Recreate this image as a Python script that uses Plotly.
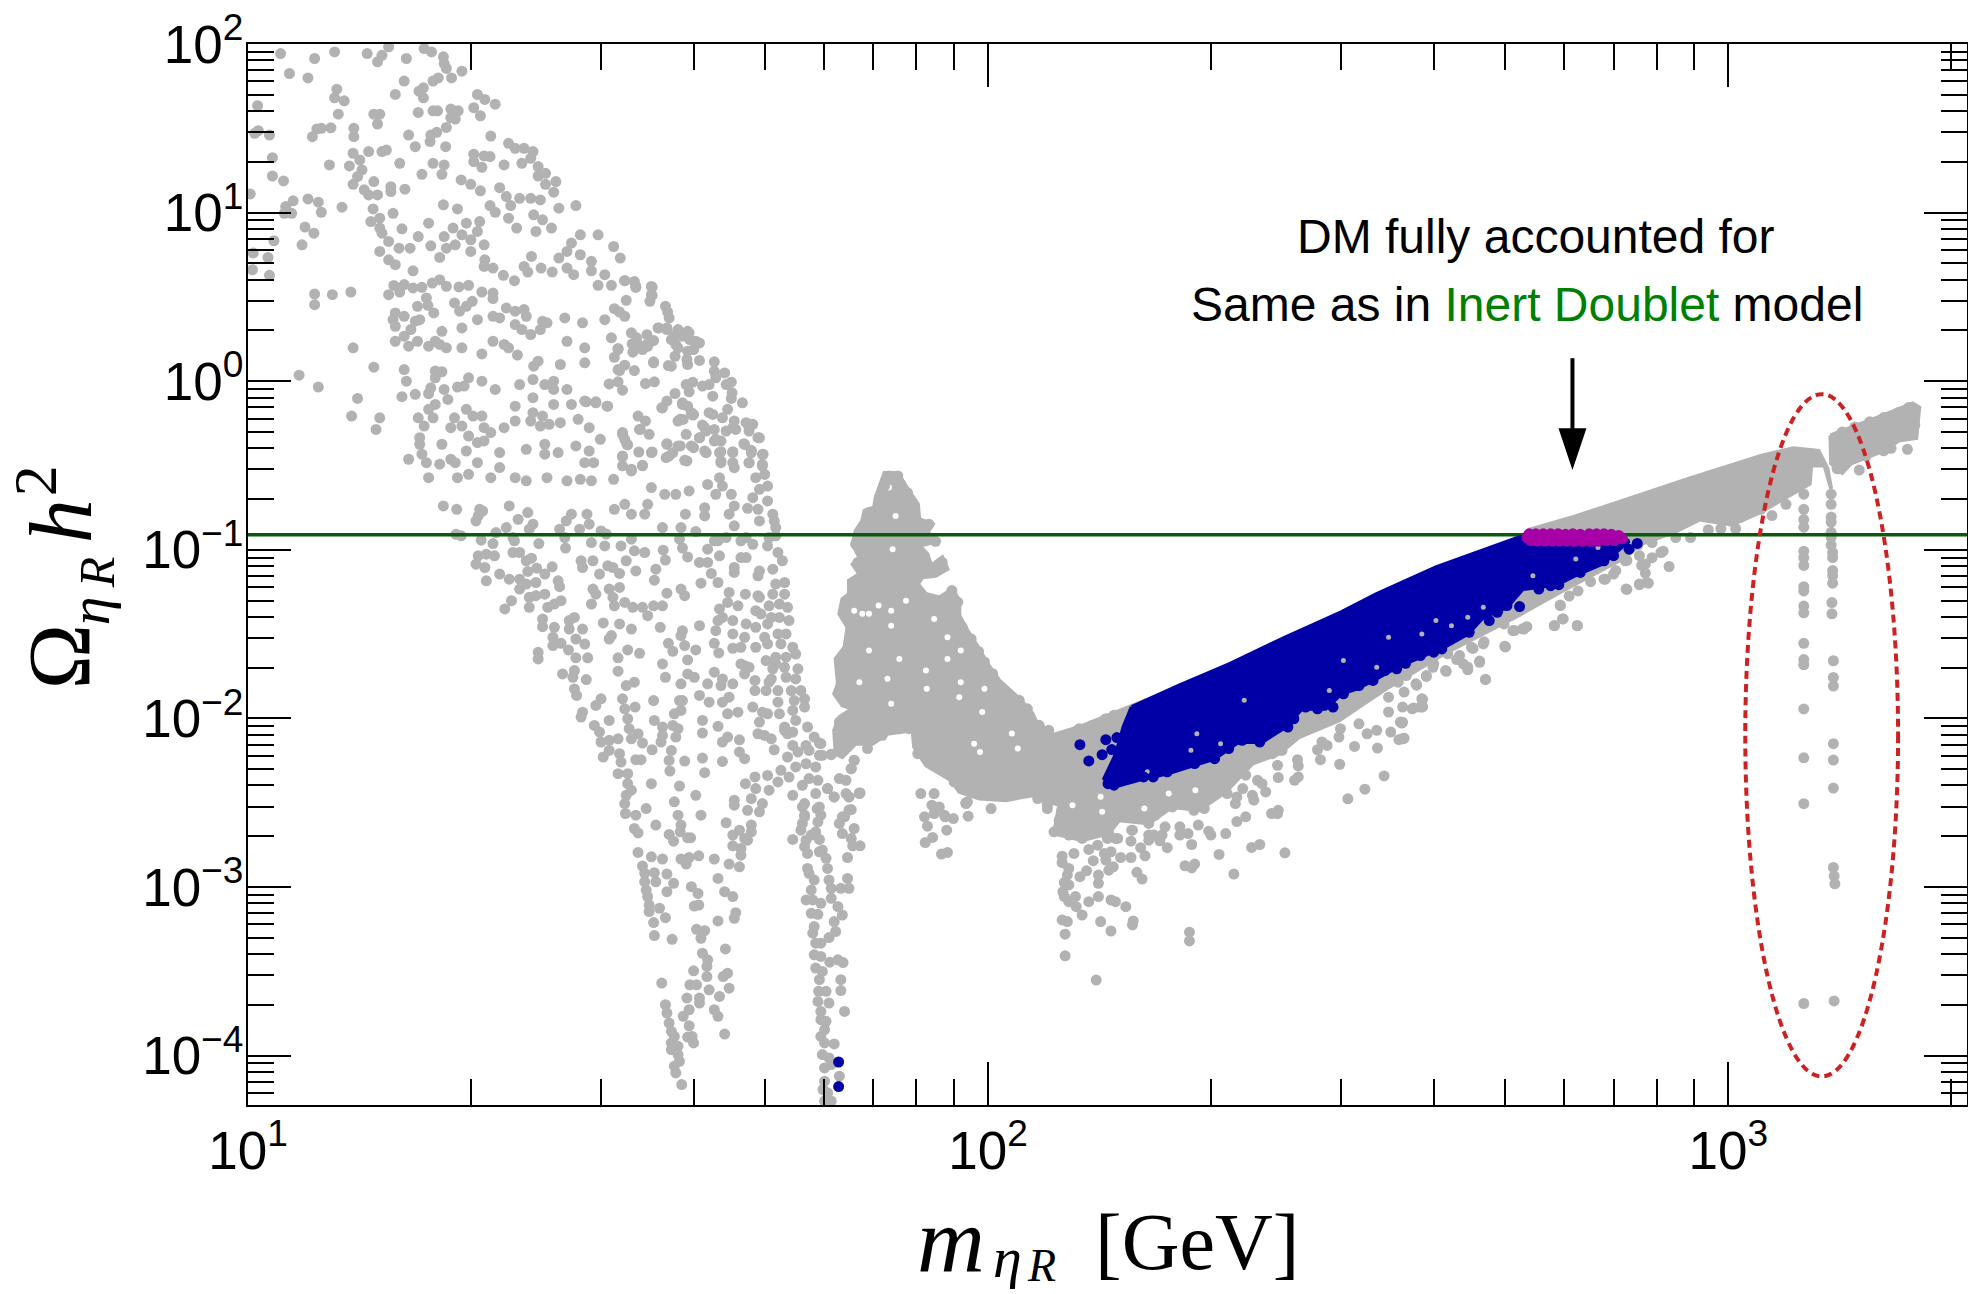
import plotly.graph_objects as go

# --- values: (log10 m [GeV], log10 Omega h^2) ---
grey_top = [
(1.044,1.943),(1.090,1.914),(1.117,1.953),(1.161,1.943),(1.181,1.933),(1.175,1.894),(1.190,1.983),(1.214,1.914),(1.238,1.973),(1.248,1.953),
(1.264,1.924),(1.265,1.884),(1.268,1.855),(1.275,1.799),(1.289,1.839),(1.056,1.825),(1.081,1.799),(1.120,1.732),(1.117,1.681),(1.130,1.663),
(1.122,1.584),(1.211,1.780),(1.250,1.780),(1.257,1.799),(1.231,1.720),(1.237,1.740),(1.237,1.681),(1.199,1.701),(1.310,1.701),(1.320,1.671),
(1.334,1.643),(1.305,1.622),(1.314,1.574),(1.170,1.584),(1.178,1.584),(1.175,1.525),(1.230,1.594),(1.250,1.604),(1.256,1.604),(1.274,1.614),
(1.284,1.604),(1.280,1.555),(1.274,1.563),(1.268,1.505),(1.013,1.634),(1.014,1.486),(1.009,1.470),(1.029,1.460),(1.033,1.326),(1.033,1.217),
(1.048,1.188),(1.003,1.111),(1.061,1.070),(1.081,1.081),(1.095,1.062),(1.099,1.002),(1.051,1.036),(1.049,0.996),(1.059,0.996),(1.127,1.032),
(1.077,0.914),(1.089,0.878),(1.035,0.833),(1.073,0.809),(1.007,0.760),(1.027,0.734),(1.006,0.661),(1.029,0.628),(1.099,1.50),(1.112,1.503),
(1.087,1.450),(1.093,1.496),(1.143,1.50),(1.143,1.45),(1.217,1.46),(1.226,1.391),(1.246,1.421),(1.247,1.46),(1.255,1.476),(1.328,1.454),
(1.267,1.391),(1.142,1.352),(1.151,1.312),(1.163,1.362),(1.181,1.362),(1.187,1.371),(1.110,1.283),(1.137,1.277),(1.154,1.253),(1.148,1.214),
(1.142,1.168),(1.170,1.184),(1.157,1.135),(1.163,1.105),(1.175,1.105),(1.193,1.154),(1.193,1.125),(1.212,1.139),(1.205,1.292),(1.235,1.227),
(1.250,1.292),(1.265,1.283),(1.262,1.227),(1.305,1.346),(1.305,1.302),(1.319,1.336),(1.327,1.332),(1.316,1.269),(1.288,1.194),(1.301,1.168),
(1.314,1.129),(1.352,1.411),(1.361,1.381),(1.373,1.381),(1.385,1.362),(1.346,1.283),(1.370,1.292),(1.382,1.322),(1.392,1.273),(1.392,1.217),
(1.402,1.233),(1.416,1.184),(1.402,1.168),(1.413,1.121),(1.340,1.148),(1.349,1.095),(1.355,1.042),(1.367,1.085),(1.382,1.085),(1.395,1.075),
(1.420,1.026),(1.443,1.042),(1.327,1.042),(1.334,1.002),(1.352,0.967),(1.386,0.987),(1.398,0.957),(1.410,0.908),(1.363,0.908),(1.389,0.888),
(1.264,1.046),(1.283,1.022),(1.169,1.022),(1.178,0.967),(1.166,0.947),(1.178,0.908),(1.196,0.996),(1.181,0.878),(1.208,0.904),(1.244,0.937),
(1.295,.937),(1.313,.947),(1.277,.908),(1.310,.888),(1.265,.858),(1.289,.868),(1.301,.839),(1.319,.809),(1.230,.858),(1.247,.803),
(1.268,.789),(1.280,.809),(1.301,.770),(1.190,.829),(1.178,.770),(1.204,.789),(1.219,.789),(1.190,.720),(1.199,.691),(1.259,.734),
(1.223,.655),(1.320,.720),(1.319,.681),(1.331,.671),(1.345,.628),(1.360,.596),(1.383,.740),(1.373,.681),(1.378,.647),(1.396,.671),
(1.411,.647),(1.420,.730),(1.437,.819),(1.449,.868),(1.473,.868),(1.494,.799),(1.503,.730),(1.431,.770),(1.449,.750),(1.464,.711),
(1.431,.671),(1.440,.632),(1.464,.655),(1.482,.632),(1.509,.596),(1.524,.563),(1.546,.557),(1.545,.513),(1.473,.569),(1.491,.569),
]
grey_upper_mid = [
(1.090,.517),(1.090,.454),(1.114,.513),(1.139,.529),(1.190,.513),(1.197,.568),(1.211,.573),(1.223,.553),(1.235,.557),(1.249,.582),
(1.259,.602),(1.268,.563),(1.285,.559),(1.298,.569),(1.205,.529),(1.316,.529),(1.331,.523),(1.331,.490),(1.241,.494),(1.243,.450),
(1.229,.444),(1.279,.464),(1.286,.415),(1.295,.444),(1.303,.474),(1.199,.405),(1.211,.385),(1.196,.365),(1.199,.326),(1.232,.365),
(1.226,.356),(1.251,.405),(1.220,.306),(1.211,.267),(1.199,.237),(1.217,.208),(1.229,.237),(1.244,.208),(1.259,.218),(1.262,.296),
(1.253,.237),(1.268,.198),(1.289,.198),(1.289,.316),(1.310,.365),(1.331,.385),(1.340,.375),(1.349,.434),(1.361,.415),(1.373,.425),
(1.376,.385),(1.361,.336),(1.370,.306),(1.382,.277),(1.398,.356),(1.404,.346),(1.395,.306),(1.331,.237),(1.346,.218),(1.352,.198),
(1.364,.155),(1.316,.162),(1.142,.198),(1.170,.083),(1.211,.069),(1.214,.0),(1.428,.375),(1.452,.346),(1.482,.365),(1.518,.287),
(1.527,.218),(1.539,.218),(1.554,.316),(1.566,.306),(1.581,.296),(1.596,.287),(1.572,.247),(1.581,.198),(1.605,.237),(1.431,.237),
(1.455,.198),(1.500,.188),(1.524,.227),(1.548,.109),(1.572,.089),(1.593,.129),(1.602,.188),(1.455,.109),(1.500,.069),(1.422,.099),
(1.392,.119),(1.386,.089),(1.069,.036),(1.095,-.035),(1.148,-.102),(1.140,-.207),(1.178,-.217),(1.173,-.286),(1.208,-.092),(1.226,-.078),
(1.244,-.074),(1.247,-.039),(1.265,-.049),(1.270,-.108),(1.253,.06),(1.262,.056),(1.253,.02),(1.283,-.035),(1.292,-.029),(1.298,.02),
(1.316,0),(1.334,-.049),(1.253,-.138),(1.244,-.167),(1.250,-.217),(1.230,-.217),(1.279,-.217),(1.295,-.167),(1.304,-.207),(1.316,-.207),
(1.238,-.266),(1.274,-.276),(1.289,-.266),(1.298,-.325),(1.319,-.276),(1.328,-.305),(1.310,-.364),(1.319,-.354),(1.346,-.276),(1.361,-.236),
(1.367,-.020),(1.385,.010),(1.385,-.098),(1.401,-.020),(1.413,-.049),(1.431,-.049),(1.413,0),(1.385,-.187),(1.361,-.148),(1.398,-.207),
(1.413,-.138),(1.437,-.138),(1.455,-.118),(1.470,-.128),(1.485,-.148),(1.382,-.236),(1.395,-.266),(1.407,-.256),(1.422,-.246),(1.446,-.226),
(1.461,-.276),(1.476,-.345),(1.506,-.315),(1.512,-.374),(1.530,-.286),(1.527,-.207),(1.566,-.374),(1.584,-.384),(1.560,-.158),(1.587,-.138),
(1.602,-.197),(1.584,-.226),(1.232,-.335),(1.232,-.374),(1.235,-.433),(1.217,-.463),(1.241,-.483),(1.244,-.572),(1.259,-.492),(1.274,-.463),
(1.295,-.414),(1.280,-.483),(1.310,-.483),(1.262,-.374),(1.283,-.572),(1.298,-.552),(1.340,-.423),(1.340,-.512),(1.328,-.572),(1.361,-.572),
(1.376,-.404),(1.401,-.374),(1.419,-.423),(1.401,-.433),(1.443,-.384),(1.461,-.414),(1.455,-.483),(1.467,-.483),(1.506,-.443),(1.506,-.502),
(1.518,-.532),(1.533,-.502),(1.545,-.423),(1.569,-.443),(1.593,-.473),(1.599,-.384),(1.376,-.591),(1.404,-.572),(1.431,-.591),(1.449,-.582),
(1.464,-.591),(1.494,-.582),(1.545,-.631),(1.563,-.671),(1.578,-.671),(1.596,-.651),
]
grey_shoulder = [
(1.610,.227),(1.610,.123),(1.594,.296),(1.594,.178),(1.594,.099),(1.577,.148),(1.568,.093),(1.630,.115),(1.630,.059),(1.644,.049),
(1.632,.020),(1.601,-.006),(1.592,-.020),(1.596,-.063),(1.614,-.029),(1.623,-.020),(1.646,-.020),(1.653,-.006),(1.628,-.089),(1.654,-.069),
(1.653,-.102),(1.668,-.128),(1.577,-.073),(1.566,-.118),(1.559,-.158),(1.587,-.128),(1.594,-.148),(1.599,-.187),(1.601,-.201),(1.623,-.187),
(1.628,-.197),(1.648,-.167),(1.641,-.217),(1.581,-.236),(1.588,-.227),(1.614,-.260),(1.619,-.296),(1.610,-.335),(1.630,-.286),(1.646,-.296),
(1.657,-.236),(1.659,-.286),(1.673,-.246),(1.682,-.256),(1.677,-.296),(1.689,-.335),(1.630,-.355),(1.639,-.355),(1.639,-.418),(1.655,-.418),
(1.670,-.371),(1.680,-.410),(1.677,-.483),(1.696,-.434),(1.695,-.503),(1.655,-.483),(1.639,-.483),(1.619,-.424),(1.592,-.315),(1.602,-.394),
(1.590,-.469),(1.581,-.384),(1.574,-.424),(1.565,-.453),(1.566,-.371),(1.546,-.420),(1.528,-.420),(1.506,-.449),(1.533,-.499),(1.518,-.522),
(1.537,-.236),(1.529,-.286),(1.542,-.315),(1.506,-.305),(1.509,-.345),(1.513,-.378),(1.555,.316),(1.566,.316),(1.581,.306),(1.576,.267),
(1.587,.267),(1.597,.247),(1.578,.217),(1.539,.276),(1.548,.241),(1.540,.207),(1.533,.188),(1.525,.257),(1.519,.221),(1.520,.172),
(1.548,.115),(1.545,.562),(1.546,.509),(1.543,.474),(1.564,.444),(1.567,.410),(1.569,.375),(1.522,.592),(1.524,.556),(1.509,.596),
(1.511,.480),(1.495,.430),(1.502,.410),(1.509,.385),(1.491,.257),(1.500,.194),(1.495,.142),(1.509,.095),(1.502,.063),(1.522,.063),
(1.488,-.016),(1.500,-.004),(1.506,-.053),(1.537,-.014),(1.549,-.004),(1.486,-.148),(1.470,-.122),(1.457,-.122),
]
grey_mid = [
(1.264,-.740),(1.282,-.760),(1.353,-.740),(1.313,-.760),(1.317,-.770),(1.311,-.799),(1.308,-.829),(1.365,-.819),(1.378,-.779),(1.385,-.848),
(1.281,-.908),(1.288,-.917),(1.315,-.943),(1.335,-.898),(1.349,-.868),(1.331,-.963),(1.358,-.927),(1.360,-.947),(1.380,-.878),(1.393,-.963),
(1.421,-.878),(1.430,-.829),(1.437,-.789),(1.428,-.927),(1.429,-.990),(1.448,-.878),(1.458,-.789),(1.461,-.848),(1.464,-.957),(1.482,-.977),
(1.477,-.888),(1.484,-.907),(1.504,-.977),(1.518,-.937),(1.522,-1.006),(1.536,-1.016),(1.560,-.868),(1.561,-1.002),(1.564,-1.061),(1.583,-.937),
(1.585,-.868),(1.591,-.789),(1.587,-.990),(1.594,-1.042),(1.605,-.892),(1.495,-.760),(1.518,-.789),(1.536,-.789),(1.540,-.730),(1.509,-.730),
(1.617,-.750),(1.617,-.799),(1.650,-.789),(1.657,-.740),(1.657,-.858),(1.621,-.612),(1.637,-.572),(1.641,-.622),(1.632,-.671),(1.653,-.671),
(1.686,-.572),(1.691,-.641),(1.698,-.553),(1.702,-.622),(1.682,-.691),(1.675,-.754),(1.689,-.760),(1.702,-.710),(1.691,-.829),(1.709,-.789),
(1.711,-.829),(1.713,-.868),(1.695,-.434),(1.695,-.493),(1.677,-.484),(1.680,-.424),(1.671,-.375),(1.691,-.336),(1.677,-.276),(1.655,-.424),
(1.657,-.513),(1.639,-.474),(1.637,-.424),(1.632,-.345),(1.617,-.276),(1.655,-.276),(1.610,-.336),(1.617,-.414),(1.704,-.927),(1.713,-.917),
(1.673,-.927),(1.666,-.947),(1.682,-.967),(1.702,-.977),(1.716,-1.016),(1.722,-1.065),(1.709,-1.115),(1.691,-1.125),(1.689,-1.154),(1.673,-1.046),
(1.666,-1.046),(1.657,-1.105),(1.657,-1.134),(1.635,-.947),(1.646,-.927),(1.621,-.996),(1.637,-1.036),(1.630,-.947),(1.610,-1.075),(1.621,-1.075),
(1.626,-1.140),(1.635,-1.194),(1.612,-1.198),(1.650,-1.253),(1.672,-1.263),(1.689,-1.272),(1.691,-1.282),(1.450,-1.065),(1.466,-1.065),(1.452,-1.105),
(1.475,-1.144),(1.486,-1.095),(1.502,-1.140),(1.511,-1.065),(1.524,-1.125),(1.551,-1.115),(1.549,-1.180),(1.493,-1.105),(1.311,-1.036),(1.322,-1.026),
(1.333,-1.036),(1.308,-1.085),(1.320,-1.105),(1.322,-1.184),(1.340,-1.144),(1.353,-1.174),(1.358,-1.016),(1.367,-1.016),(1.376,-1.065),(1.383,-1.050),
(1.367,-1.174),(1.378,-1.128),(1.390,-1.109),(1.411,-1.101),(1.401,-1.144),(1.389,-1.194),(1.367,-1.233),(1.376,-1.203),(1.419,-1.184),(1.421,-1.219),
(1.356,-1.302),(1.347,-1.351),(1.380,-1.282),(1.380,-1.341),(1.389,-1.272),(1.401,-1.263),(1.405,-1.341),(1.414,-1.322),(1.423,-1.302),(1.398,-1.411),
(1.398,-1.456),(1.414,-1.460),(1.412,-1.519),(1.412,-1.568),(1.423,-1.555),(1.434,-1.420),(1.441,-1.401),(1.434,-1.470),(1.443,-1.529),(1.452,-1.470),
(1.455,-1.559),(1.392,-1.608),(1.392,-1.647),(1.433,-1.594),(1.443,-1.641),(1.459,-1.641),(1.425,-1.736),(1.441,-1.716),(1.439,-1.756),(1.457,-1.770),
(1.441,-1.825),(1.444,-1.864),(1.466,-1.233),(1.470,-1.263),(1.488,-1.233),(1.502,-1.223),(1.493,-1.282),(1.464,-1.322),(1.495,-1.332),(1.509,-1.312),
(1.520,-1.341),(1.533,-1.341),(1.540,-1.391),(1.548,-1.332),(1.560,-1.332),(1.566,-1.257),(1.585,-1.233),(1.590,-1.272),(1.480,-1.434),(1.502,-1.440),
(1.518,-1.470),(1.491,-1.509),(1.488,-1.529),(1.557,-1.460),(1.587,-1.480),(1.585,-1.509),(1.610,-1.450),(1.513,-1.594),(1.529,-1.614),(1.500,-1.641),
(1.500,-1.720),(1.568,-1.555),(1.574,-1.602),(1.590,-1.568),(1.605,-1.594),(1.594,-1.653),(1.630,-1.555),(1.636,-1.612),(1.560,-1.677),(1.564,-1.756),
(1.522,-1.785),(1.511,-1.805),(1.585,-1.795),(1.594,-1.736),(1.603,-1.756),(1.630,-1.726),(1.621,-1.795),(1.641,-1.766),(1.639,-1.805),
]
grey_low_left = [
(1.610,-1.864),(1.623,-1.904),(1.548,-1.894),(1.506,-1.884),(1.509,-1.943),(1.523,-1.933),(1.513,-2.002),(1.583,-1.894),(1.587,-1.894),(1.576,-1.973),
(1.585,-1.953),(1.614,-2.012),(1.614,-2.087),(1.635,-2.047),(1.452,-1.963),(1.450,-1.992),(1.470,-1.923),(1.477,-1.884),(1.468,-2.042),(1.475,-2.081),
(1.477,-2.140),(1.488,-2.012),(1.500,-2.121),(1.488,-2.130),(1.515,-2.061),(1.527,-2.091),(1.518,-2.121),(1.533,-2.146),(1.546,-2.186),(1.549,-2.012),
(1.560,-2.051),(1.560,-2.101),(1.558,-2.140),(1.574,-2.042),(1.581,-2.061),(1.578,-2.111),(1.572,-2.190),(1.569,-2.249),(1.480,-2.229),(1.488,-2.190),
(1.502,-2.209),(1.504,-2.259),(1.524,-2.245),(1.531,-2.245),(1.590,-2.253),(1.570,-2.312),(1.614,-2.235),(1.617,-2.322),(1.641,-2.255),(1.500,-2.328),
(1.513,-2.328),(1.513,-2.387),(1.518,-2.426),(1.511,-2.456),(1.509,-2.505),(1.524,-2.574),(1.510,-2.564),(1.538,-2.535),(1.545,-2.387),(1.583,-2.401),
(1.605,-2.456),(1.576,-2.495),(1.581,-2.574),(1.612,-2.574),(1.641,-2.140),(1.648,-2.111),(1.664,-2.127),(1.664,-2.199),(1.671,-2.239),(1.711,-2.186),
(1.689,-2.091),(1.698,-2.101),(1.707,-2.121),(1.691,-2.022),(1.695,-1.963),(1.682,-1.933),(1.702,-1.973),(1.641,-1.904),(1.648,-1.973),(1.662,-1.963),
(1.650,-1.874),(1.655,-1.795),(1.671,-1.687),(1.666,-1.677),(1.677,-1.697),(1.671,-1.736),(1.685,-1.775),(1.685,-1.835),(1.700,-1.835),(1.707,-1.766),
(1.713,-1.677),(1.700,-1.657),(1.716,-1.835),(1.716,-1.904),(1.718,-1.973),(1.725,-2.051),(1.729,-2.091),(1.637,-1.351),(1.648,-1.312),(1.662,-1.332),
(1.635,-1.420),(1.641,-1.401),(1.655,-1.420),(1.655,-1.499),(1.632,-1.480),(1.673,-1.440),(1.686,-1.460),(1.671,-1.519),(1.666,-1.578),(1.655,-1.584),
(1.686,-1.361),(1.693,-1.381),(1.686,-1.578),(1.698,-1.519),(1.702,-1.558),
]
grey_column = [
(1.713,-1.203),(1.725,-1.194),(1.709,-1.263),(1.725,-1.263),(1.704,-1.332),(1.718,-1.322),(1.729,-1.341),(1.707,-1.401),(1.718,-1.401),(1.731,-1.420),
(1.702,-1.440),(1.716,-1.499),(1.727,-1.499),(1.736,-1.578),(1.720,-1.558),(1.713,-1.637),(1.727,-1.637),(1.740,-1.618),(1.709,-1.706),(1.725,-1.697),
(1.743,-1.706),(1.704,-1.785),(1.727,-1.756),(1.740,-1.766),(1.734,-1.835),(1.747,-1.835),(1.738,-1.894),(1.752,-1.884),(1.736,-1.953),(1.752,-1.933),
(1.740,-2.012),(1.756,-2.051),(1.736,-2.081),(1.725,-2.071),(1.765,-2.111),(1.772,-2.146),(1.754,-2.160),(1.736,-2.160),(1.758,-2.190),(1.743,-2.199),
(1.729,-2.229),(1.754,-2.269),(1.740,-2.288),(1.720,-2.308),(1.767,-2.288),(1.758,-2.357),(1.731,-2.348),(1.749,-2.397),(1.770,-2.367),(1.716,-2.377),
(1.772,-2.219),(1.788,-2.215),(1.801,-2.190),(1.685,-2.347),(1.702,-2.338),(1.672,-2.387),(1.686,-2.416),(1.680,-2.476),(1.704,-2.426),(1.695,-2.505),
(1.675,-2.545),(1.691,-2.554),(1.657,-2.485),(1.657,-2.515),(1.736,-2.456),(1.752,-2.505),(1.767,-2.446),(1.769,-2.535),(1.752,-2.574),(1.783,-2.416),
(1.792,-2.466),(1.799,-2.357),(1.808,-2.367),(1.812,-2.466),(1.826,-2.442),(1.815,-2.541),(1.803,-2.584),(1.819,-2.249),(1.815,-2.298),
]
grey_dip_left = [
(1.522,-2.653),(1.527,-2.679),(1.551,-2.633),(1.569,-2.688),(1.575,-2.728),(1.585,-2.633),(1.584,-2.673),(1.594,-2.708),(1.598,-2.708),(1.646,-2.619),
(1.655,-2.692),(1.664,-2.663),(1.680,-2.633),(1.671,-2.712),(1.680,-2.673),(1.675,-2.722),(1.655,-2.756),(1.666,-2.771),(1.666,-2.811),(1.650,-2.864),
(1.664,-2.880),(1.630,-2.834),(1.609,-2.815),(1.596,-2.825),(1.585,-2.834),(1.592,-2.864),(1.560,-2.834),(1.545,-2.821),(1.527,-2.795),(1.533,-2.876),
(1.536,-2.919),(1.536,-2.969),(1.538,-3.018),(1.540,-3.057),(1.542,-3.107),(1.542,-3.146),(1.548,-3.211),(1.549,-3.288),(1.573,-3.310),(1.549,-2.915),
(1.551,-2.969),(1.566,-2.923),(1.575,-2.978),(1.566,-3.028),(1.556,-3.126),(1.564,-3.182),(1.599,-2.998),(1.608,-3.038),(1.603,-3.113),(1.609,-3.107),
(1.635,-2.949),(1.644,-3.028),(1.655,-3.057),(1.635,-3.201),(1.657,-3.186),(1.659,-3.152),(1.606,-3.251),(1.617,-3.259),(1.612,-3.304),(1.645,-3.367),
(1.614,-3.393),(1.621,-3.432),(1.620,-3.471),(1.602,-3.497),(1.620,-3.531),(1.623,-3.610),(1.597,-3.580),(1.606,-3.580),(1.642,-3.531),(1.648,-3.511),
(1.650,-3.600),(1.637,-3.649),(1.559,-3.570),(1.593,-3.659),(1.610,-3.659),(1.610,-3.688),(1.596,-3.728),(1.588,-3.767),(1.630,-3.728),(1.635,-3.767),
(1.596,-3.823),(1.644,-3.872),(1.594,-3.890),(1.600,-3.886),(1.602,-3.925),(1.564,-3.698),(1.566,-3.748),(1.569,-3.807),(1.572,-3.856),(1.576,-3.886),
(1.572,-3.925),(1.581,-3.945),(1.572,-3.965),(1.581,-3.994),(1.583,-4.034),(1.576,-4.063),(1.578,-4.103),(1.586,-4.172),
]
grey_dip_centre = [
(1.749,-2.623),(1.747,-2.663),(1.754,-2.722),(1.752,-2.761),(1.770,-2.614),(1.736,-2.718),(1.761,-2.692),(1.767,-2.673),(1.772,-2.718),(1.756,-2.801),
(1.772,-2.791),(1.781,-2.830),(1.776,-2.781),(1.756,-2.890),(1.758,-2.919),(1.765,-2.959),(1.761,-3.018),(1.754,-3.077),(1.763,-3.077),(1.774,-3.097),
(1.761,-3.156),(1.770,-3.162),(1.765,-3.235),(1.763,-3.274),(1.767,-3.333),(1.774,-3.333),(1.765,-3.402),(1.774,-3.412),(1.767,-3.481),(1.776,-3.501),
(1.772,-3.550),(1.771,-3.619),(1.781,-3.619),(1.770,-3.679),(1.785,-3.688),(1.774,-3.738),(1.774,-3.787),(1.781,-3.797),(1.779,-3.846),(1.774,-3.886),
(1.779,-3.925),(1.776,-3.994),(1.785,-4.014),(1.792,-3.931),(1.779,-4.073),(1.788,-4.053),(1.799,-4.122),(1.779,-4.152),(1.777,-4.201),(1.783,-4.221),
(1.779,-4.270),(1.788,-4.270),(1.783,-2.890),(1.785,-2.959),(1.788,-3.008),(1.788,-3.067),(1.797,-3.116),(1.803,-3.166),(1.792,-3.205),(1.794,-3.264),
(1.785,-3.300),(1.786,-3.446),(1.797,-3.432),(1.804,-3.448),(1.801,-3.550),(1.801,-3.614),(1.806,-3.738),(1.801,-3.008),(1.812,-3.008),(1.810,-2.949),
(1.810,-2.825),(1.799,-2.623),(1.806,-2.584),(1.812,-2.544),(1.819,-2.653),(1.803,-2.683),(1.815,-2.712),(1.817,-2.756),(1.827,-2.756),(1.783,-2.416),
(1.792,-2.466),(1.808,-2.446),(1.812,-2.466),(1.826,-2.446),(1.772,-2.525),(1.774,-2.574),(1.749,-2.525),(1.752,-2.584),
]
grey_valley_side = [
(1.909,-2.446),(1.927,-2.446),(1.924,-2.515),(1.934,-2.525),(1.927,-2.564),(1.914,-2.584),(1.942,-2.584),(1.953,-2.594),(1.918,-2.639),(1.944,-2.663),
(1.925,-2.706),(1.915,-2.736),(1.937,-2.805),(1.945,-2.795),(1.973,-2.580),(2.004,-2.535),(1.970,-2.501),(1.774,-2.150),(1.788,-2.213),(1.776,-2.219),
(1.819,-2.248),(1.815,-2.298),(1.827,-2.442),(1.941,-2.574),(1.972,-2.495),(2.067,-2.475),(2.080,-2.515),
]
grey_peak_edge = [
(1.866,-.562),(1.878,-.562),(1.860,-.621),(1.882,-.611),(1.891,-.661),(1.898,-.739),(1.855,-.710),(1.839,-.779),(1.837,-.799),(1.828,-.887),
(1.821,-.966),(1.824,-1.075),(1.819,-1.203),(1.810,-1.302),(1.806,-1.380),(1.815,-1.440),(1.812,-1.578),(1.801,-1.647),(1.799,-1.854),(1.808,-1.883),
(1.824,-1.943),(1.799,-2.022),(1.799,-2.110),(1.801,-2.199),(1.837,-2.179),(1.857,-2.100),(1.878,-2.061),(1.893,-2.061),(1.905,-2.209),(1.923,-2.268),
(1.954,-2.376),(1.970,-2.505),(1.920,-.848),(1.929,-.950),(1.938,-1.075),(1.951,-1.242),(1.959,-1.311),(1.965,-1.459),(1.977,-1.528),(1.987,-1.603),
(1.995,-1.666),(2.006,-1.735),(2.019,-1.844),(2.042,-1.893),(2.053,-1.943),(2.069,-2.041),(2.082,-2.071),(2.123,-2.061),(2.141,-2.041),(2.159,-2.002),(2.170,-1.982),
]
grey_band_edge = [
(2.100,-2.545),(2.096,-2.604),(2.089,-2.673),(2.109,-2.692),(2.127,-2.712),(2.114,-2.643),(2.145,-2.653),(2.163,-2.683),(2.175,-2.712),(2.166,-2.623),
(2.195,-2.663),(2.217,-2.623),(2.226,-2.574),(2.249,-2.525),(2.267,-2.505),(2.278,-2.545),(2.292,-2.535),(2.305,-2.426),(2.314,-2.387),(2.330,-2.337),
(2.348,-2.278),(2.350,-2.219),(2.384,-2.209),(2.397,-2.190),(3.147,-.519),(3.161,-.473),(3.186,-.443),(3.210,-.413),(3.220,-.398),(3.237,-.322),
(3.252,-.262),(3.252,-.171),(3.244,-.156),(3.230,-.186),(3.210,-.216),(3.191,-.241),(3.171,-.271),(3.154,-.301),(3.144,-.337),(3.144,-.428),
]
grey_band_below = [
(2.080,-2.505),(2.080,-2.535),(2.116,-2.801),(2.100,-2.817),(2.100,-2.856),(2.109,-2.890),(2.107,-2.929),(2.103,-2.973),(2.109,-2.988),(2.101,-3.028),
(2.103,-3.057),(2.109,-3.087),(2.118,-3.057),(2.119,-3.117),(2.127,-3.166),(2.136,-3.087),(2.149,-3.057),(2.166,-3.077),(2.172,-3.087),(2.186,-3.117),
(2.152,-3.205),(2.196,-3.201),(2.195,-3.225),(2.166,-3.261),(2.100,-3.195),(2.107,-3.205),(2.104,-3.280),(2.104,-3.408),(2.146,-3.552),(2.272,-3.268),
(2.272,-3.320),(2.124,-2.939),(2.133,-2.904),(2.149,-2.929),(2.149,-2.978),(2.142,-2.844),(2.136,-2.777),(2.148,-2.752),(2.161,-2.712),(2.172,-2.712),
(2.157,-2.801),(2.166,-2.791),(2.159,-2.840),(2.163,-2.900),(2.169,-2.880),(2.179,-2.825),(2.193,-2.825),(2.193,-2.728),(2.194,-2.663),(2.206,-2.767),
(2.212,-2.815),(2.201,-2.913),(2.208,-2.953),(2.239,-2.643),(2.217,-2.692),(2.224,-2.692),(2.235,-2.692),(2.217,-2.722),(2.242,-2.767),(2.232,-2.726),
(2.259,-2.643),(2.259,-2.692),(2.270,-2.683),(2.275,-2.748),(2.284,-2.633),(2.298,-2.669),(2.301,-2.692),(2.321,-2.683),(2.266,-2.874),(2.275,-2.886),
(2.279,-2.864),(2.312,-2.807),(2.332,-2.923),(2.336,-2.612),(2.348,-2.584),(2.383,-2.564),(2.392,-2.545),(2.391,-2.564),(2.356,-2.765),(2.367,-2.748),
(2.401,-2.797),(2.486,-2.477),(2.509,-2.420),(2.535,-2.341),(2.475,-2.272),(2.414,-2.367),(2.419,-2.347),(2.392,-2.351),(2.419,-2.282),(2.391,-2.278),
(2.418,-2.245),(2.449,-2.245),(2.445,-2.186),(2.451,-2.140),(2.458,-2.160),(2.495,-2.166),(2.526,-2.176),(2.555,-2.126),(2.562,-2.117),(2.544,-2.081),
(2.525,-2.071),(2.512,-2.091),(2.474,-2.111),(2.476,-2.061),(2.559,-2.028),(2.501,-2.032),(2.334,-2.505),(2.336,-2.466),(2.357,-2.456),(2.359,-2.485),
(2.375,-2.436),(2.323,-2.446),(2.344,-2.416),(2.364,-2.367),(2.370,-2.387),(2.348,-2.337),(2.672,-1.769),(2.698,-1.572),(2.765,-1.450),(2.776,-1.410),
(2.796,-1.450),(2.709,-1.479),(2.722,-1.469),(2.728,-1.456),(2.773,-1.331),(2.862,-1.233),(2.880,-1.203),(2.890,-1.193),(2.586,-1.884),(2.557,-2.022),
(2.560,-2.120),(2.648,-1.696),(2.664,-1.667),(2.618,-1.716),(2.642,-1.677),(2.592,-1.746),(2.578,-1.795),(2.565,-1.746),(2.554,-1.785),(2.562,-1.844),
(2.541,-1.874),(2.573,-1.943),(2.584,-1.933),(2.560,-1.933),(2.541,-1.962),(2.669,-1.558),(2.653,-1.578),(2.637,-1.627),(2.621,-1.617),(2.602,-1.676),
(2.832,-1.174),(2.845,-1.144),(2.888,-1.085),(2.909,-1.016),(2.861,-1.065),(2.880,-1.035),
]
grey_band_right = [
(3.078,-.730),(3.059,-.797),(3.044,-.76),(3.017,-.806),(3.010,-.875),(2.990,-.875),(2.973,-.881),(2.949,-.927),(2.929,-.927),(2.912,-1.008),
(2.920,-1.099),(2.878,-.972),(2.897,-.957),(2.897,-1.047),(2.883,-1.093),(2.888,-1.138),(2.892,-1.198),(2.880,-1.207),(2.863,-1.235),(2.863,-1.063),
(2.848,-1.123),(2.834,-1.174),(2.814,-1.189),(2.797,-1.244),(2.785,-1.274),(2.773,-1.328),(2.777,-1.410),(2.765,-1.449),(2.796,-1.449),(2.724,-1.470),
(2.711,-1.479),(2.699,-1.576),(2.670,-1.546),(2.655,-1.585),(2.664,-1.660),(2.672,-1.769),(2.648,-1.712),(2.619,-1.721),(2.601,-1.697),(2.592,-1.751),
(2.579,-1.803),(2.587,-1.887),(2.587,-1.932),(2.575,-1.938),(2.560,-2.023),(2.561,-2.120),(2.751,-1.244),(2.731,-1.289),(2.716,-1.365),(2.697,-1.440),
(2.633,-1.651),(3.242,-.404),(3.177,-.527),(3.149,-.519),
]
drop_left_logomega = [-.670,-.760,-.821,-.866,-1.008,-1.047,-1.093,-1.219,-1.244,-1.334,-1.374,-1.555,-1.651,-1.682,-1.944,-2.234,-2.506,-3.691]
drop_left_logm = [3.102]*len(drop_left_logomega)
drop_right_logomega = [-.670,-.730,-.806,-.836,-.896,-.926,-.972,-1.017,-1.047,-1.123,-1.153,-1.198,-1.313,-1.380,-1.658,-1.757,-1.808,-2.150,-2.247,-2.413,-2.884,-2.935,-2.981,-3.676]
drop_right_logm = [3.139,3.139,3.139,3.139,3.139,3.139,3.139,3.141,3.141,3.141,3.141,3.141,3.140,3.140,3.142,3.142,3.142,3.142,3.142,3.142,3.142,3.143,3.144,3.143]

# outlines of the regions where points merge into a solid area
grey_solid_outline = [
(2.087,-2.100),(2.064,-2.012),(2.060,-1.972),(2.042,-1.883),(2.015,-1.775),(1.999,-1.676),(1.988,-1.588),(1.972,-1.479),(1.961,-1.390),(1.961,-1.302),
(1.952,-1.233),(1.934,-1.282),(1.916,-1.262),(1.905,-1.203),(1.911,-1.163),(1.929,-1.154),(1.945,-1.114),(1.938,-1.045),(1.923,-1.094),(1.918,-1.025),
(1.907,-.976),(1.925,-.956),(1.934,-.947),(1.918,-.897),(1.925,-.848),(1.907,-.818),(1.905,-.730),(1.893,-.651),(1.884,-.592),(1.878,-.545),(1.860,-.545),(1.853,-.621),
(1.848,-.690),(1.846,-.749),(1.833,-.769),(1.830,-.828),(1.821,-.887),(1.817,-.966),(1.826,-1.045),(1.817,-1.085),(1.826,-1.144),(1.812,-1.183),
(1.812,-1.262),(1.803,-1.292),(1.799,-1.380),(1.810,-1.459),(1.806,-1.578),(1.794,-1.647),(1.797,-1.795),(1.792,-1.854),(1.803,-1.923),(1.817,-1.943),
(1.799,-1.992),(1.792,-2.071),(1.794,-2.209),(1.803,-2.229),(1.821,-2.150),(1.844,-2.150),(1.864,-2.091),(1.898,-2.071),(1.900,-2.169),(1.916,-2.278),
(1.950,-2.367),(1.961,-2.436),(1.988,-2.475),(2.024,-2.485),(2.060,-2.456),(2.096,-2.515),(2.089,-2.683),(2.127,-2.722),(2.163,-2.683),(2.177,-2.604),
(2.217,-2.623),(2.249,-2.525),(2.285,-2.545),(2.321,-2.436),(2.357,-2.268),(2.393,-2.209),(2.420,-2.111),(2.474,-2.012),(2.541,-1.815),(2.616,-1.617),
(2.712,-1.400),(2.776,-1.243),(2.861,-1.045),(2.882,-.966),(2.927,-.896),(2.961,-.821),(3.005,-.851),(3.044,-.775),(3.073,-.700),(3.093,-.654),
(3.110,-.609),(3.112,-.500),(3.130,-.500),(3.139,-.639),(3.134,-.519),(3.122,-.413),(3.088,-.398),(3.044,-.443),(2.946,-.579),(2.848,-.724),
(2.790,-.806),(2.731,-.881),(2.717,-.935),(2.669,-1.014),(2.605,-1.112),(2.525,-1.270),(2.477,-1.379),(2.402,-1.527),(2.327,-1.684),(2.258,-1.813),(2.195,-1.923),(2.159,-1.992),(2.123,-2.051),
]
grey_block_outline = [(3.138,-.322),(3.166,-.277),(3.210,-.201),(3.249,-.132),(3.258,-.156),(3.254,-.337),(3.230,-.352),(3.210,-.413),(3.166,-.488),(3.154,-.543),(3.139,-.488)]
# small gaps left open between merged points
grey_gaps = [
(1.839,-1.597),(1.916,-1.716),(1.917,-1.824),(1.961,-1.874),(1.927,-1.410),(1.869,-1.450),(1.830,-1.380),(1.852,-1.331),(1.869,-1.361),(1.945,-1.519),
(1.963,-1.597),(1.880,-1.647),(1.826,-1.785),(1.864,-1.765),(1.989,-2.199),(2.032,-2.090),(2.040,-2.179),(1.963,-1.785),(1.995,-1.824),(1.871,-.996),
(1.866,-.631),(1.875,-.799),(1.869,-1.913),(1.945,-1.647),(1.992,-1.962),(1.981,-2.150),(1.839,-1.380),(1.819,-1.361),(1.889,-1.302),(2.152,-2.465),
(2.154,-2.554),(2.211,-2.534),(2.244,-2.446),(2.280,-2.426),(2.114,-2.515),
]
blue_gaps = [
(2.480,-1.657),(2.541,-1.519),(2.648,-1.400),(2.586,-1.499),(2.605,-1.420),(2.626,-1.450),(2.215,-2.317),(2.736,-1.154),(2.794,-1.055),(2.824,-.986),
(2.346,-1.893),(2.461,-1.834),(2.282,-2.091),(2.314,-2.150),(2.274,-2.189),(2.669,-1.341),(2.525,-1.696),
]
blue_solid_outline = [
(2.194,-1.933),(2.258,-1.805),(2.327,-1.676),(2.402,-1.519),(2.477,-1.371),(2.525,-1.262),(2.605,-1.104),(2.669,-1.006),(2.717,-.927),(2.776,-.897),
(2.866,-.947),(2.829,-1.085),(2.797,-1.144),(2.770,-1.203),(2.722,-1.233),(2.701,-1.341),(2.669,-1.400),(2.648,-1.499),(2.616,-1.578),(2.594,-1.617),
(2.552,-1.696),(2.520,-1.775),(2.498,-1.824),(2.477,-1.854),(2.456,-1.943),(2.424,-1.943),(2.402,-2.051),(2.370,-2.140),(2.338,-2.140),(2.306,-2.239),
(2.279,-2.278),(2.242,-2.327),(2.210,-2.357),(2.170,-2.406),(2.157,-2.357),(2.173,-2.209),(2.183,-2.051),
]
blue_points = [
(1.798,-4.038),(1.798,-4.184),(2.124,-2.156),(2.136,-2.252),(2.154,-2.215),(2.159,-2.126),(2.167,-2.185),(2.174,-2.114),(2.165,-2.367),(2.162,-2.387),
(2.170,-2.396),(2.210,-2.347),(2.223,-2.347),(2.242,-2.317),(2.266,-2.268),(2.279,-2.268),(2.306,-2.239),(2.325,-2.179),(2.343,-2.130),(2.367,-2.140),
(2.381,-2.071),(2.405,-2.051),(2.413,-2.002),(2.429,-1.933),(2.445,-1.943),(2.466,-1.933),(2.480,-1.854),(2.501,-1.805),(2.520,-1.775),(2.536,-1.716),
(2.552,-1.706),(2.564,-1.673),(2.584,-1.627),(2.602,-1.607),(2.613,-1.588),(2.626,-1.499),(2.650,-1.489),(2.661,-1.400),(2.677,-1.420),(2.688,-1.371),
(2.701,-1.331),(2.718,-1.337),(2.744,-1.233),(2.760,-1.213),(2.771,-1.207),(2.778,-1.154),(2.800,-1.134),(2.832,-1.065),(2.845,-1.035),(2.866,-.996),(2.877,-.962),
]
magenta_points = [
(2.728,-.927),(2.731,-.905),(2.733,-.945),(2.740,-.905),(2.742,-.948),(2.750,-.905),(2.752,-.948),(2.760,-.905),(2.762,-.948),(2.770,-.905),
(2.772,-.948),(2.780,-.908),(2.782,-.948),(2.790,-.905),(2.792,-.950),(2.800,-.908),(2.803,-.950),(2.812,-.905),(2.814,-.950),(2.822,-.905),
(2.824,-.950),(2.832,-.905),(2.835,-.945),(2.842,-.908),(2.846,-.945),(2.852,-.915),(2.857,-.935),
]
relic_line_omega = 0.123
relic_line_mass = [10, 2105]

x_major = [10, 100, 1000]
x_minor = [20,30,40,50,60,70,80,90,200,300,400,500,600,700,800,900,2000]
y_major = [100, 10, 1, 0.1, 0.01, 0.001, 0.0001]
y_labels = ["10<sup>2</sup>","10<sup>1</sup>","10<sup>0</sup>","10<sup>\u22121</sup>","10<sup>\u22122</sup>","10<sup>\u22123</sup>","10<sup>\u22124</sup>"]
x_labels = ["10<sup>1</sup>","10<sup>2</sup>","10<sup>3</sup>"]
y_minor = [d*k for d in [10,1,0.1,0.01,0.001,0.0001,0.00001] for k in range(2,10)]

GREY, BLUE, MAGENTA, GREEN = "#b2b2b2", "#0000a6", "#a600a6", "#0a5a0a"
MARKER = 11

# --- layout geometry in page pixels ---
W, H = 1970, 1294
L, R, T, B = 248, 1969, 43.5, 1105.5
def fx(p): return (p - L) / (R - L)
def fy(p): return (B - p) / (B - T)

def delog(pairs):
    return [10**a for a, _ in pairs], [10**b for _, b in pairs]

def closed(pairs):
    return pairs + pairs[:1]

fig = go.Figure()
scatter_groups = [grey_top, grey_upper_mid, grey_shoulder, grey_mid, grey_low_left, grey_column, grey_dip_left,
                  grey_dip_centre, grey_valley_side, grey_peak_edge, grey_band_edge, grey_band_below, grey_band_right,
                  list(zip(drop_left_logm, drop_left_logomega)), list(zip(drop_right_logm, drop_right_logomega))]
for outline in [grey_solid_outline, grey_block_outline]:
    xs, ys = delog(closed(outline))
    fig.add_trace(go.Scatter(x=xs, y=ys, mode="lines", fill="toself", fillcolor=GREY, line=dict(color=GREY, width=4), hoverinfo="skip"))
xs, ys = delog(grey_gaps)
fig.add_trace(go.Scatter(x=xs, y=ys, mode="markers", marker=dict(color="#ffffff", size=6), hoverinfo="skip"))
for group in scatter_groups:
    xs, ys = delog(group)
    fig.add_trace(go.Scatter(x=xs, y=ys, mode="markers", marker=dict(color=GREY, size=MARKER), hoverinfo="skip"))
fig.add_trace(go.Scatter(x=relic_line_mass, y=[relic_line_omega]*2, mode="lines", line=dict(color=GREEN, width=3.5), hoverinfo="skip"))
xs, ys = delog(closed(blue_solid_outline))
fig.add_trace(go.Scatter(x=xs, y=ys, mode="lines", fill="toself", fillcolor=BLUE, line=dict(color=BLUE, width=4), hoverinfo="skip"))
xs, ys = delog(blue_gaps)
fig.add_trace(go.Scatter(x=xs, y=ys, mode="markers", marker=dict(color=GREY, size=5), hoverinfo="skip"))
xs, ys = delog(blue_points)
fig.add_trace(go.Scatter(x=xs, y=ys, mode="markers", marker=dict(color=BLUE, size=MARKER), hoverinfo="skip"))
xs, ys = delog(magenta_points)
fig.add_trace(go.Scatter(x=xs, y=ys, mode="markers", marker=dict(color=MAGENTA, size=MARKER), hoverinfo="skip"))

ax_common = dict(type="log", showgrid=False, zeroline=False, showline=True, linecolor="#000", linewidth=2, mirror="ticks",
                 ticks="inside", ticklen=43, tickwidth=2, tickcolor="#000", tickmode="array",
                 tickfont=dict(family="Liberation Sans", size=53, color="#000"))
fig.update_xaxes(range=[1, 1 + (R - L)/741], tickvals=x_major, ticktext=x_labels, ticklabelstandoff=-2,
                 minor=dict(tickmode="array", tickvals=x_minor, ticks="inside", ticklen=26, tickwidth=2, tickcolor="#000", showgrid=False), **ax_common)
fig.update_yaxes(range=[-4.293, 2], tickvals=y_major, ticktext=y_labels, ticklabelstandoff=-8,
                 minor=dict(tickmode="array", tickvals=y_minor, ticks="inside", ticklen=26, tickwidth=2, tickcolor="#000", showgrid=False), **ax_common)

def label(text, cx, cy, size, family="Liberation Serif", angle=0, color="#000"):
    fig.add_annotation(text=text, x=fx(cx), y=fy(cy), xref="paper", yref="paper", xanchor="center", yanchor="middle",
                       showarrow=False, textangle=angle, font=dict(family=family, size=size, color=color))

label("DM fully accounted for", 1537, 236, 48, "Liberation Sans")
label('Same as in <span style="color:#008000">Inert Doublet</span> model', 1528, 304, 48, "Liberation Sans")
label("<i>m</i>", 952, 1241, 94)
label("<i>\u03b7</i>", 1008, 1258, 58)
label("<i>R</i>", 1042, 1266, 46)
label("[GeV]", 1198, 1243, 80)
label("\u03a9", 60, 657, 88, angle=-90)
label("<i>\u03b7</i>", 90, 611, 58, angle=-90)
label("<i>R</i>", 97, 572, 50, angle=-90)
label("<i>h</i>", 61, 521, 88, angle=-90)
label("2", 35, 481, 62, angle=-90)

arrow_x, arrow_top, arrow_neck, arrow_tip, arrow_half = 1574, 358, 430, 470, 14
fig.add_shape(type="line", xref="paper", yref="paper", x0=fx(arrow_x), x1=fx(arrow_x), y0=fy(arrow_top), y1=fy(arrow_neck), line=dict(color="#000", width=4))
fig.add_shape(type="path", xref="paper", yref="paper", fillcolor="#000", line=dict(color="#000", width=0),
              path=f"M {fx(arrow_x-arrow_half)} {fy(arrow_neck-2)} L {fx(arrow_x+arrow_half)} {fy(arrow_neck-2)} L {fx(arrow_x)} {fy(arrow_tip)} Z")
fig.add_shape(type="circle", xref="paper", yref="paper", x0=fx(1747), x1=fx(1900), y0=fy(394), y1=fy(1077),
              line=dict(color="#cc2222", width=4, dash="8px,5px"))

fig.update_layout(width=W, height=H, autosize=False, showlegend=False, paper_bgcolor="#fff", plot_bgcolor="#fff",
                  margin=dict(l=L, r=W - R, t=T, b=H - B, pad=0))
fig.write_html("out.html", config=dict(displayModeBar=False),
               post_script="document.body.style.margin='0';document.body.style.overflow='hidden';document.documentElement.style.overflow='hidden';")
